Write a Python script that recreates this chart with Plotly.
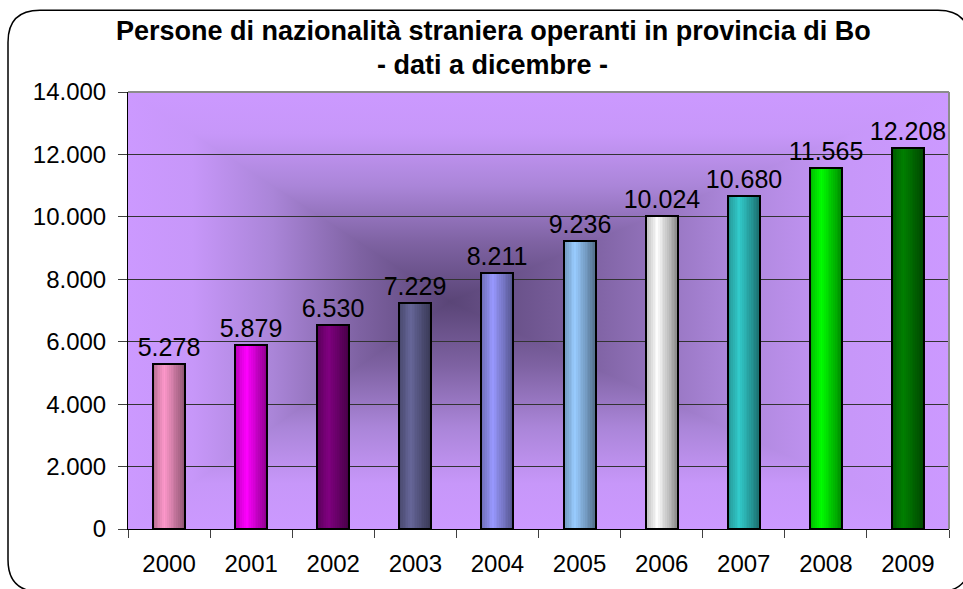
import base64
import plotly.graph_objects as go

# ---- data ----
years = ["2000", "2001", "2002", "2003", "2004", "2005", "2006", "2007", "2008", "2009"]
persone = [5278, 5879, 6530, 7229, 8211, 9236, 10024, 10680, 11565, 12208]
bar_colors = ["#FF99CC", "#FF00FF", "#800080", "#666699", "#9999FF",
              "#99CCFF", "#FFFFFF", "#33CCCC", "#00FF00", "#008000"]
y_ticks = [0, 2000, 4000, 6000, 8000, 10000, 12000, 14000]
title_line1 = "Persone di nazionalità straniera operanti in provincia di Bo"
title_line2 = "- dati a dicembre -"

# ---- layout geometry (pixels) ----
W, H = 963, 589
L, R, T, B = 128, 14, 92, 58
PW, PH = W - L - R, H - T - B


def px(x):
    return (x - L) / PW


def py(y):
    return (H - B - y) / PH


def shade(hexcol, f):
    h = hexcol.lstrip("#")
    r, g, b = (int(h[i:i + 2], 16) for i in (0, 2, 4))
    return "rgb(%d,%d,%d)" % (r * f, g * f, b * f)


def profile(t):
    # horizontal brightness profile across a bar (0 = left edge, 1 = right edge)
    if t < 0.35:
        return 0.72 + (1.0 - 0.72) * t / 0.35
    return 1.0 - (1.0 - 0.55) * (t - 0.35) / 0.65


fig = go.Figure()

bw = 0.39
K = 18
dw = bw / K
for k in range(K):
    t = (k + 0.5) / K
    fig.add_trace(go.Bar(
        x=years, y=persone,
        width=bw - k * dw, offset=-bw / 2 + k * dw,
        marker=dict(color=[shade(c, profile(t)) for c in bar_colors], line=dict(width=0)),
        hoverinfo="skip", showlegend=False,
    ))

fig.add_trace(go.Bar(
    x=years, y=persone, width=bw, offset=-bw / 2,
    marker=dict(color="rgba(0,0,0,0)", line=dict(color="black", width=2)),
    texttemplate="%{y:,d}", textposition="outside", constraintext="none",
    textfont=dict(family="Liberation Sans, Arial", size=25, color="black"),
    cliponaxis=False, showlegend=False, hoverinfo="skip",
))

# ---- plot-area background: rectangular "from centre" gradient ----
cx, cy = 392, 480  # centre in 0..1000 box
stops = ('<stop offset="0" stop-color="#CC99FF"/>'
         '<stop offset="0.2" stop-color="#C797F9"/>'
         '<stop offset="0.45" stop-color="#AA85D8"/>'
         '<stop offset="0.72" stop-color="#7E62A2"/>'
         '<stop offset="1" stop-color="#5A4577"/>')
polys = ""
for gid, pts_ in (("gt", f"0,0 1000,0 {cx},{cy}"), ("gb", f"0,1000 1000,1000 {cx},{cy}"),
                  ("gl", f"0,0 0,1000 {cx},{cy}"), ("gr", f"1000,0 1000,1000 {cx},{cy}")):
    polys += (f'<polygon points="{pts_}" fill="url(#{gid})" stroke="url(#{gid})" '
              f'stroke-width="4" stroke-linejoin="round"/>')
svg = f'''<svg xmlns="http://www.w3.org/2000/svg" width="1000" height="1000" viewBox="0 0 1000 1000" preserveAspectRatio="none">
<defs>
<linearGradient id="gt" gradientUnits="userSpaceOnUse" x1="0" y1="0" x2="0" y2="{cy}">{stops}</linearGradient>
<linearGradient id="gb" gradientUnits="userSpaceOnUse" x1="0" y1="1000" x2="0" y2="{cy}">{stops}</linearGradient>
<linearGradient id="gl" gradientUnits="userSpaceOnUse" x1="0" y1="0" x2="{cx}" y2="0">{stops}</linearGradient>
<linearGradient id="gr" gradientUnits="userSpaceOnUse" x1="1000" y1="0" x2="{cx}" y2="0">{stops}</linearGradient>
<clipPath id="c"><rect x="0" y="0" width="1000" height="1000"/></clipPath>
</defs>
<g clip-path="url(#c)">{polys}</g>
</svg>'''
src = "data:image/svg+xml;base64," + base64.b64encode(svg.encode()).decode()

# ---- outer rounded frame ----
x1, y1, x2, y2, rr = 8, 10, 970, 594, 32
pts = [
    ("M", px(x1), py(y1 + rr)),
    ("Q", px(x1), py(y1), px(x1 + rr), py(y1)),
    ("L", px(x2 - rr), py(y1)),
    ("Q", px(x2), py(y1), px(x2), py(y1 + rr)),
    ("L", px(x2), py(y2 - rr)),
    ("Q", px(x2), py(y2), px(x2 - rr), py(y2)),
    ("L", px(x1 + rr), py(y2)),
    ("Q", px(x1), py(y2), px(x1), py(y2 - rr)),
]
path = ""
for p in pts:
    cmd, vals = p[0], p[1:]
    path += cmd + " " + " ".join(
        ("%.5f,%.5f" % (vals[i], vals[i + 1])) for i in range(0, len(vals), 2)) + " "
path += "Z"

fig.update_layout(
    width=W, height=H,
    margin=dict(l=L, r=R, t=T, b=B, pad=0),
    paper_bgcolor="white", plot_bgcolor="rgba(0,0,0,0)",
    barmode="overlay", bargap=0,
    separators=",.",
    font=dict(family="Liberation Sans, Arial", size=24, color="black"),
    images=[dict(source=src, xref="paper", yref="paper", x=0, y=1, sizex=1, sizey=1,
                 xanchor="left", yanchor="top", sizing="stretch", layer="below")],
    shapes=[
        dict(type="path", path=path, xref="paper", yref="paper",
             line=dict(color="black", width=1.5), fillcolor="rgba(0,0,0,0)", layer="below"),
        dict(type="line", xref="paper", yref="paper", x0=0, x1=1, y0=1, y1=1,
             line=dict(color="#8c8c8c", width=2)),
        dict(type="line", xref="paper", yref="paper", x0=1, x1=1, y0=0, y1=1,
             line=dict(color="#8c8c8c", width=2)),
    ],
    annotations=[
        dict(text="<b>" + title_line1 + "</b>", xref="paper", yref="paper",
             x=px(493), y=py(31), xanchor="center", yanchor="middle", showarrow=False,
             font=dict(family="Liberation Sans, Arial", size=27, color="black")),
        dict(text="<b>" + title_line2 + "</b>", xref="paper", yref="paper",
             x=px(492), y=py(65), xanchor="center", yanchor="middle", showarrow=False,
             font=dict(family="Liberation Sans, Arial", size=27, color="black")),
    ],
    xaxis=dict(
        type="category", showline=True, linecolor="black", linewidth=1,
        ticks="outside", ticklen=8, tickcolor="#404040", tickwidth=1,
        tickson="boundaries", showgrid=False, ticklabelstandoff=13,
        tickfont=dict(size=24), range=[-0.5, 9.5], fixedrange=True,
    ),
    yaxis=dict(
        range=[0, 14000], tickvals=y_ticks, tickformat=",d",
        showline=True, linecolor="black", linewidth=1,
        ticks="outside", ticklen=9, tickcolor="#404040", tickwidth=1,
        showgrid=True, gridcolor="#333333", gridwidth=1, zeroline=False,
        ticklabelstandoff=7, tickfont=dict(size=24), fixedrange=True,
    ),
)

fig.write_html("out.html", config={"displayModeBar": False},
               post_script="document.body.style.margin='0';document.body.style.overflow='hidden';")
